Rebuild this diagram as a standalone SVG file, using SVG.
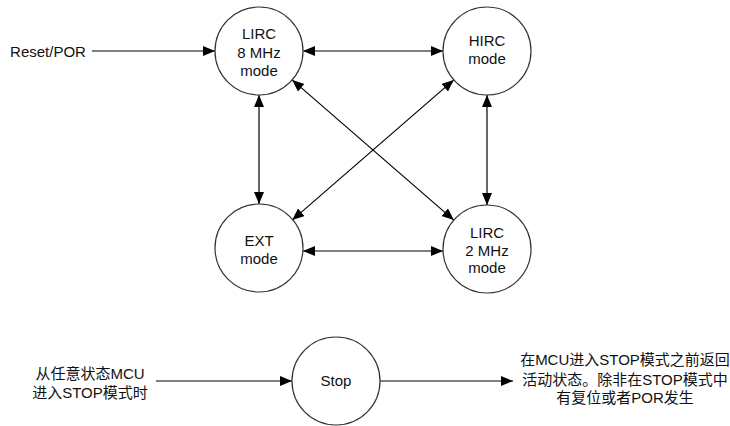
<svg xmlns="http://www.w3.org/2000/svg" width="730" height="426" viewBox="0 0 730 426">
<style>
.node circle{fill:#fff;stroke:#333;stroke-width:1.2}
text{font-family:"Liberation Sans","Noto Sans CJK SC",Arial,sans-serif;font-size:15px;fill:#111;text-anchor:middle}
.edge{stroke:#000;stroke-width:1.2;fill:none}
.one{marker-end:url(#ah)}
.two{marker-start:url(#ah);marker-end:url(#ah)}
</style>
<defs>
<marker id="ah" markerUnits="userSpaceOnUse" markerWidth="13" markerHeight="11" refX="12" refY="5" orient="auto-start-reverse"><path d="M0,0 L12,5 L0,10 z" fill="#000"/></marker>
</defs>
<rect width="730" height="426" fill="#fff"/>
<g id="connectors">
<line class="edge one" x1="92" y1="51" x2="215" y2="51"/>
<line class="edge two" x1="303" y1="51" x2="443" y2="51"/>
<line class="edge two" x1="259" y1="95" x2="259" y2="204"/>
<line class="edge two" x1="487" y1="95" x2="487" y2="205"/>
<line class="edge two" x1="303" y1="251" x2="443" y2="251"/>
<line class="edge two" x1="292.2" y1="79.9" x2="453.8" y2="220.1"/>
<line class="edge two" x1="453.8" y1="79.9" x2="292.2" y2="220.1"/>
<line class="edge one" x1="156" y1="381" x2="292" y2="381"/>
<line class="edge one" x1="380" y1="381" x2="513" y2="381"/>
</g>
<g id="reset"><text x="48" y="57">Reset/POR</text></g>
<g id="lirc8" class="node"><circle cx="259" cy="51" r="44"/><text x="259" y="39">LIRC</text><text x="259" y="58">8 MHz</text><text x="259" y="76">mode</text></g>
<g id="hirc" class="node"><circle cx="487" cy="51" r="44"/><text x="487" y="46">HIRC</text><text x="487" y="64">mode</text></g>
<g id="ext" class="node"><circle cx="259" cy="248" r="44"/><text x="259" y="246">EXT</text><text x="259" y="264">mode</text></g>
<g id="lirc2" class="node"><circle cx="487" cy="249" r="44"/><text x="487" y="238">LIRC</text><text x="487" y="256">2 MHz</text><text x="487" y="273">mode</text></g>
<g id="stop" class="node"><circle cx="336" cy="381" r="44"/><text x="336" y="386">Stop</text></g>
<g id="enter"><text x="90" y="379">从任意状态MCU</text><text x="90" y="398">进入STOP模式时</text></g>
<g id="return"><text x="625" y="365">在MCU进入STOP模式之前返回</text><text x="625" y="385">活动状态。除非在STOP模式中</text><text x="625" y="403">有复位或者POR发生</text></g>
</svg>
